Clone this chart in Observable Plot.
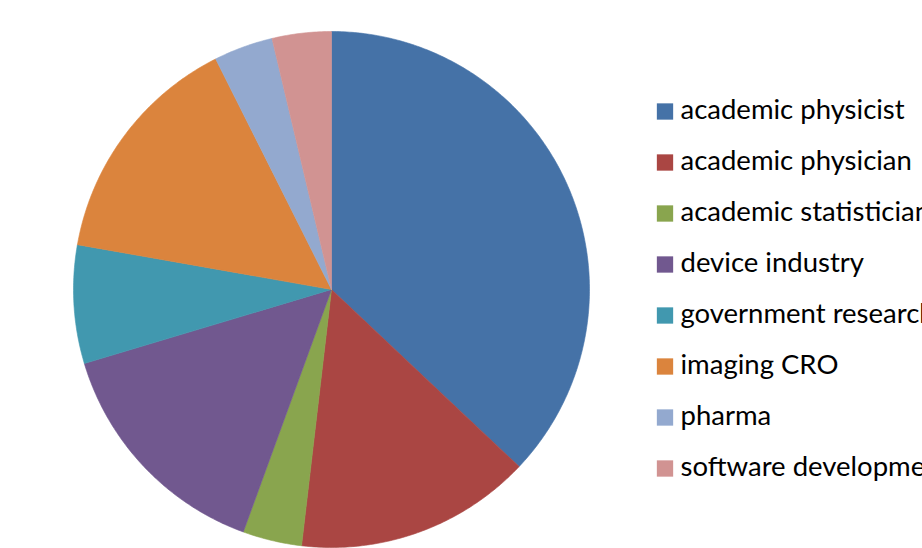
<!DOCTYPE html>
<html>
<head>
<meta charset="utf-8">
<script src="https://cdn.jsdelivr.net/npm/d3@7"></script>
<script src="https://cdn.jsdelivr.net/npm/@observablehq/plot@0.6"></script>
<style>
  html, body { margin: 0; padding: 0; background: #fff; overflow: hidden; }
  #wrap { position: relative; width: 922px; height: 548px; overflow: hidden; }
  #legend { position: absolute; left: 648px; top: 0px; }
</style>
</head>
<body>
<div id="wrap"><div id="pie"></div><div id="legend"></div></div>
<script>
const categories = ["academic physicist", "academic physician", "academic statistician", "device industry", "government research", "imaging CRO", "pharma", "software development"];
const counts = [10, 4, 1, 4, 2, 4, 1, 1];
const colors = ["#4572A7", "#AA4643", "#89A54E", "#71588F", "#4198AF", "#DB843D", "#93A9CF", "#D19392"];

const data = categories.map((c, i) => ({category: c, value: counts[i]}));
const arcs = d3.pie().sort(null).value(d => d.value)(data);

// build polygon outline for each slice (unit circle, angle 0 at top, clockwise)
const points = [];
for (const a of arcs) {
  const cat = a.data.category;
  points.push({category: cat, x: 0, y: 0});
  const n = Math.max(2, Math.ceil((a.endAngle - a.startAngle) / 0.01));
  for (let k = 0; k <= n; k++) {
    const t = a.startAngle + (a.endAngle - a.startAngle) * k / n;
    points.push({category: cat, x: Math.sin(t), y: Math.cos(t)});
  }
  points.push({category: cat, x: 0, y: 0});
}

const color = {domain: categories, range: colors};

const pie = Plot.plot({
  width: 922,
  height: 548,
  margin: 0,
  x: {domain: [-1, 1], range: [73, 589], axis: null},
  y: {domain: [-1, 1], range: [547, 31], axis: null},
  color,
  marks: [
    Plot.line(points, {x: "x", y: "y", z: "category", fill: "category", stroke: "category", strokeWidth: 0.6, curve: "linear"})
  ]
});
document.getElementById("pie").appendChild(pie);

const legend = Plot.plot({
  width: 274,
  height: 548,
  margin: 0,
  x: {domain: [0, 1], range: [0, 274], axis: null},
  y: {type: "point", domain: categories, range: [109.5, 468.5], padding: 0, axis: null},
  color,
  style: {fontFamily: "Lato, sans-serif", overflow: "visible"},
  marks: [
    Plot.dot(categories, {x: () => 0, y: d => d, fill: d => d, symbol: "square", r: 9.2, dx: 16.5}),
    Plot.text(categories, {x: () => 0, y: d => d, text: d => d, dx: 32, dy: -1, textAnchor: "start", fontSize: 27.5, fill: "#000", lineAnchor: "middle"})
  ]
});
document.getElementById("legend").appendChild(legend);
</script>
</body>
</html>
